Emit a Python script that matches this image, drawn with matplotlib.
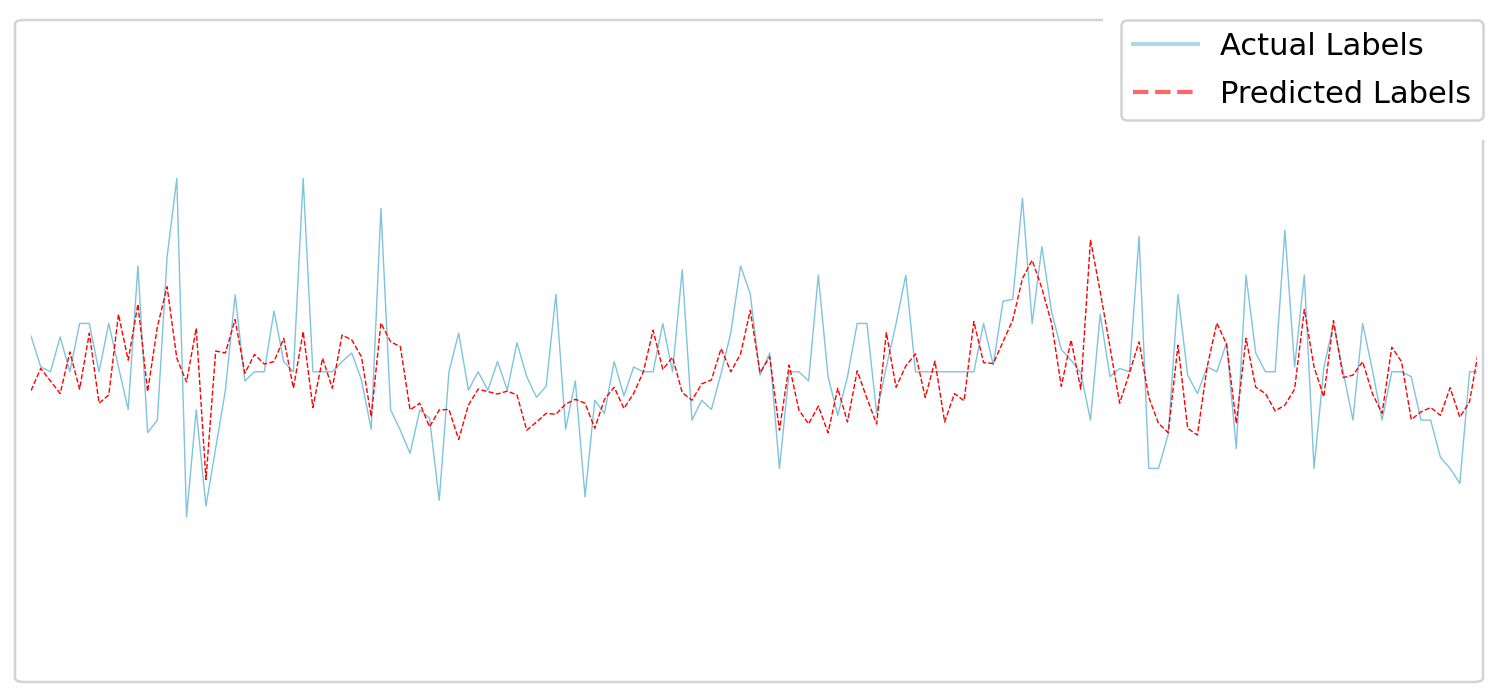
import numpy as np
import matplotlib
matplotlib.use("Agg")
import matplotlib.pyplot as plt
from matplotlib.patches import FancyBboxPatch, Rectangle
from matplotlib.lines import Line2D

# =============================
# Data
# =============================

actual = [
    0.74, 0.10, 0.00, 0.72, 0.00, 1.00, 1.00, 0.00, 1.00, 0.10,
    -0.78, 2.19, -1.26, -1.00, 2.38, 4.00, -3.00, -0.79, -2.78, -1.58,
    -0.38, 1.59, -0.19, 0.00, 0.00, 1.26, 0.21, 0.00, 4.00, 0.00,
    0.00, 0.00, 0.21, 0.39, -0.17, -1.19, 3.38, -0.79, -1.21, -1.69,
    -0.79, -0.96, -2.66, 0.00, 0.80, -0.38, 0.00, -0.38, 0.21, -0.38,
    0.60, -0.10, -0.53, -0.30, 1.60, -1.19, -0.19, -2.59, -0.59, -0.86,
    0.21, -0.50, 0.10, 0.00, 0.00, 1.00, 0.00, 2.11, -1.00, -0.59,
    -0.78, -0.03, 0.81, 2.19, 1.61, -0.07, 0.39, -2.00, 0.00, 0.00,
    -0.19, 2.00, -0.10, -0.90, -0.10, 1.00, 1.00, -0.86, 0.10, 1.00,
    2.00, 0.00, 0.00, 0.00, 0.00, 0.00, 0.00, 0.00, 1.00, 0.14,
    1.46, 1.50, 3.59, 1.00, 2.59, 1.24, 0.46, 0.24, -0.02, -1.00,
    1.19, -0.10, 0.07, 0.00, 2.80, -2.00, -2.00, -1.29, 1.60, -0.07,
    -0.45, 0.10, 0.00, 0.60, -1.59, 2.00, 0.39, 0.00, 0.00, 2.93,
    0.10, 2.00, -2.00, 0.07, 1.00, 0.00, -1.00, 1.00, 0.04, -1.00,
    0.00, 0.00, -0.10, -1.00, -1.00, -1.77, -2.00, -2.31, 0.00, 0.00,
]

predicted = [
    -0.39, 0.07, -0.19, -0.45, 0.41, -0.36, 0.80, -0.65, -0.48, 1.19,
    0.24, 1.40, -0.41, 0.93, 1.76, 0.28, -0.21, 0.90, -2.23, 0.43,
    0.39, 1.08, -0.03, 0.36, 0.16, 0.21, 0.69, -0.34, 0.83, -0.74,
    0.28, -0.34, 0.76, 0.66, 0.31, -0.93, 1.01, 0.62, 0.52, -0.79,
    -0.65, -1.14, -0.79, -0.78, -1.40, -0.69, -0.36, -0.41, -0.46, -0.40,
    -0.48, -1.21, -1.04, -0.86, -0.88, -0.67, -0.57, -0.65, -1.17, -0.57,
    -0.32, -0.76, -0.45, 0.00, 0.86, 0.05, 0.30, -0.43, -0.59, -0.25,
    -0.17, 0.48, 0.00, 0.37, 1.27, -0.02, 0.31, -1.21, 0.14, -0.79,
    -1.08, -0.71, -1.26, -0.34, -1.04, 0.02, -0.55, -1.08, 0.81, -0.32,
    0.12, 0.37, -0.53, 0.22, -1.04, -0.45, -0.60, 1.04, 0.19, 0.17,
    0.62, 1.07, 1.93, 2.31, 1.73, 1.00, -0.30, 0.66, -0.36, 2.73,
    1.66, 0.52, -0.65, -0.03, 0.62, -0.53, -1.07, -1.26, 0.55, -1.17,
    -1.31, 0.10, 1.01, 0.57, -1.07, 0.69, -0.32, -0.45, -0.81, -0.69,
    -0.36, 1.29, 0.10, -0.52, 1.06, -0.12, -0.07, 0.21, -0.45, -0.86,
    0.51, 0.21, -0.99, -0.83, -0.74, -0.90, -0.33, -0.94, -0.62, 0.53,
]

labels = ["Actual Labels", "Predicted Labels"]

# =============================
# Plot
# =============================

W, H = 1500, 697
fig = plt.figure(figsize=(15, 6.97), dpi=100)

ax = fig.add_axes([31 / W, 15 / H, 1446 / W, 662 / H])
idx = np.arange(len(actual))
ax.plot(idx, actual, color="#7ec4de", linewidth=1.0)
ax.plot(idx, predicted, color="red", linestyle="--", linewidth=1.0)
ax.set_xlim(0, 1446 / 9.72)
ax.set_ylim(-6.42, 7.28)
ax.axis("off")

# rounded light-gray frame around the plot
frame = FancyBboxPatch((15 / W, 15 / H), 1468 / W, 662 / H,
                       boxstyle="round,pad=0,rounding_size=0.006",
                       transform=fig.transFigure, facecolor="none",
                       edgecolor="#d3d3d3", linewidth=1.8, zorder=1)
fig.patches.append(frame)

# white gap around the legend
cover = Rectangle((1103 / W, 1 - 140 / H), 1 - 1103 / W, 140 / H,
                  transform=fig.transFigure, facecolor="white",
                  edgecolor="none", zorder=2)
fig.patches.append(cover)

handles = [
    Line2D([], [], color="lightblue", linewidth=3),
    Line2D([], [], color="red", alpha=0.6, linestyle="--", linewidth=3),
]
leg = fig.legend(handles, labels, loc="upper right",
                 bbox_to_anchor=(1483 / W, 1 - 20 / H),
                 bbox_transform=fig.transFigure, borderaxespad=0,
                 fontsize=22, handlelength=2.15, handletextpad=0.72,
                 labelspacing=0.62, borderpad=0.38,
                 framealpha=1, fancybox=True)
leg.get_frame().set_edgecolor("#d3d3d3")
leg.get_frame().set_linewidth(1.8)
leg.set_zorder(5)

fig.savefig("out.png", dpi=100)
